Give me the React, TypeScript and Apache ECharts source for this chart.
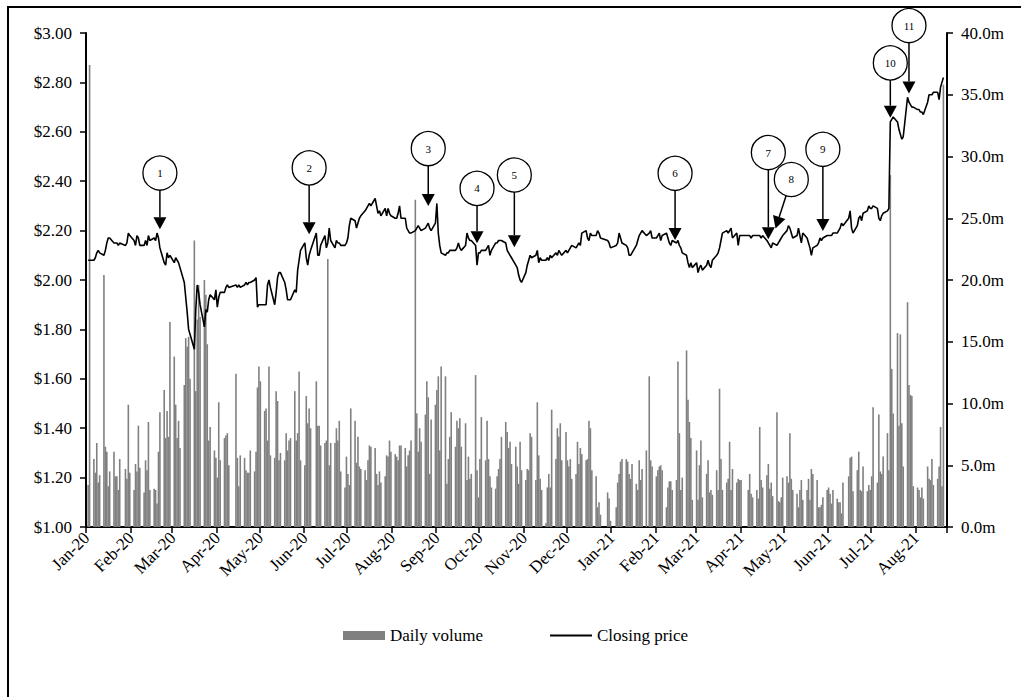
import React, { useEffect, useRef } from 'react';
import * as echarts from 'echarts';

// ---------- axis / calendar ----------
const MONTH_NAMES = ['Jan', 'Feb', 'Mar', 'Apr', 'May', 'Jun', 'Jul', 'Aug', 'Sep', 'Oct', 'Nov', 'Dec'];
const AXIS_START_UTC = Date.UTC(2020, 0, 1);
const AXIS_DAYS = 600;
const LAST_TRADE = '2021-08-20';
const HOLIDAYS = ['2020-01-01', '2020-01-27', '2020-04-10', '2020-04-13', '2020-06-08', '2020-12-25', '2020-12-28',
  '2021-01-01', '2021-01-26', '2021-04-02', '2021-04-05', '2021-06-14'];

// ---------- daily volume (millions), one value per trading day of each month ----------
const VOL_2020_01 = [3.4, 37.4, 5.5, 4.4, 6.8, 3.6, 4.2, 20.4, 6.5, 6.1, 3.3, 4.5, 6.1, 4.1, 4.1, 3.0, 5.5, 4.7, 3.9, 9.9, 4.4];
const VOL_2020_02 = [3.0, 5.1, 4.5, 8.2, 4.8, 2.8, 5.4, 4.6, 8.5, 3.0, 3.1, 3.0, 1.9, 6.1, 9.3, 11.1, 7.2, 9.4, 7.3, 16.6];
const VOL_2020_03 = [13.8, 9.9, 7.2, 8.6, 6.4, 11.5, 15.3, 14.6, 15.4, 12.0, 23.2, 11.0, 16.8, 19.6, 17.0, 20.0, 18.8, 14.8, 7.0, 8.1, 6.2, 5.6];
const VOL_2020_04 = [4.0, 10.1, 5.4, 7.2, 7.4, 7.6, 5.0, 12.4, 5.6, 3.3, 5.8, 5.6, 4.6, 4.4, 4.4, 6.2, 4.5, 6.1, 11.3, 13.0];
const VOL_2020_05 = [11.8, 9.4, 9.6, 7.0, 13.0, 5.8, 5.6, 11.0, 10.2, 5.4, 6.0, 5.4, 7.6, 6.2, 7.0, 7.2, 11.0, 7.0, 7.6, 12.6, 5.4];
const VOL_2020_06 = [5.0, 10.6, 8.4, 9.6, 8.0, 11.8, 8.2, 8.2, 6.6, 6.8, 7.0, 21.7, 5.0, 6.8, 6.8, 8.0, 7.0, 8.6, 4.5, 3.2, 5.7];
const VOL_2020_07 = [4.3, 3.4, 9.6, 8.6, 5.2, 7.3, 4.9, 4.7, 4.6, 3.8, 5.4, 6.6, 6.5, 6.4, 4.3, 3.4, 4.5, 3.6, 4.1, 5.8, 5.7, 7.0, 6.1];
const VOL_2020_08 = [5.9, 5.7, 5.4, 6.6, 6.6, 6.4, 4.9, 5.8, 6.2, 7.0, 26.5, 9.2, 6.1, 8.0, 6.9, 9.1, 11.8, 10.5, 4.3, 8.7, 9.9];
const VOL_2020_09 = [11.1, 12.2, 6.2, 13.0, 12.2, 3.5, 5.5, 7.3, 9.3, 6.5, 8.6, 8.0, 8.8, 6.5, 8.4, 3.8, 5.7, 3.9, 4.3, 12.3, 4.6, 2.4];
const VOL_2020_10 = [5.5, 8.9, 5.4, 8.6, 5.5, 4.1, 3.2, 3.1, 4.1, 4.7, 5.5, 7.3, 8.5, 7.7, 6.4, 6.9, 5.1, 6.5, 4.9, 3.5, 6.9, 4.6];
const VOL_2020_11 = [3.8, 4.7, 4.6, 7.6, 7.3, 3.8, 10.1, 5.8, 3.9, 3.0, 0.3, 3.2, 4.3, 3.2, 9.5, 5.5, 8.0, 7.3, 8.4, 5.4, 7.7];
const VOL_2020_12 = [5.4, 4.9, 5.5, 3.9, 4.3, 6.9, 5.1, 6.4, 5.9, 5.4, 5.5, 8.6, 8.0, 4.6, 4.1, 1.6, 2.0, 1.0, 2.8, 2.3, 0.5];
const VOL_2021_01 = [1.6, 3.6, 4.3, 5.3, 5.5, 5.5, 5.3, 4.3, 3.9, 5.1, 3.5, 3.0, 5.4, 3.8, 4.7, 6.2, 12.2, 5.4, 4.9];
const VOL_2021_02 = [4.1, 4.6, 4.9, 5.0, 4.6, 1.6, 3.2, 3.7, 3.7, 3.0, 3.8, 13.4, 7.6, 3.0, 4.0, 14.3, 10.3, 8.5, 7.2, 2.2];
const VOL_2021_03 = [6.2, 2.2, 5.0, 7.0, 2.4, 4.3, 5.4, 2.8, 3.0, 2.6, 4.6, 3.0, 11.2, 5.5, 3.0, 3.6, 3.9, 6.9, 3.0, 4.7, 3.6, 3.9, 3.8];
const VOL_2021_04 = [3.8, 3.0, 4.3, 2.7, 2.4, 3.0, 2.3, 8.1, 3.8, 3.2, 4.2, 5.1, 3.1, 3.6, 2.5, 9.3, 2.1, 2.0, 2.4, 4.0];
const VOL_2021_05 = [4.1, 3.6, 7.6, 3.9, 3.0, 2.7, 1.6, 3.0, 3.8, 2.2, 3.0, 3.9, 2.2, 4.7, 4.3, 3.8, 1.6, 1.6, 1.8, 2.4, 3.0];
const VOL_2021_06 = [3.2, 2.7, 1.9, 3.0, 2.3, 2.0, 2.0, 1.1, 3.6, 4.1, 5.6, 5.7, 2.9, 4.6, 6.1, 3.0, 2.9, 4.9, 2.9, 3.4, 3.0];
const VOL_2021_07 = [4.1, 9.7, 3.6, 9.1, 4.5, 4.3, 5.7, 7.6, 4.6, 28.5, 12.8, 9.2, 15.7, 8.2, 15.6, 8.4, 4.9, 18.2, 11.5, 10.7, 10.6, 3.3];
const VOL_2021_08 = [3.2, 3.0, 2.4, 3.2, 2.3, 4.9, 3.9, 3.8, 5.5, 3.4, 3.9, 4.9, 8.1, 3.3, 35.8];

// ---------- closing price ($), one value per trading day of each month ----------
const PX_2020_01 = [2.08, 2.08, 2.08, 2.09, 2.11, 2.12, 2.11, 2.10, 2.12, 2.15, 2.17, 2.17, 2.15, 2.15, 2.15, 2.14, 2.15, 2.14, 2.15, 2.19, 2.18];
const PX_2020_02 = [2.16, 2.14, 2.18, 2.17, 2.14, 2.14, 2.16, 2.14, 2.18, 2.16, 2.17, 2.16, 2.19, 2.17, 2.13, 2.07, 2.06, 2.11, 2.09, 2.10];
const PX_2020_03 = [2.07, 2.09, 2.08, 2.07, 2.05, 1.99, 1.93, 1.87, 1.80, 1.78, 1.72, 1.88, 1.98, 1.95, 1.90, 1.81, 1.88, 1.87, 1.92, 1.94, 1.92, 1.96];
const PX_2020_04 = [1.89, 1.93, 1.95, 1.95, 1.97, 1.98, 1.97, 1.98, 1.97, 1.98, 1.97, 1.98, 1.99, 1.98, 1.99, 1.99, 2.00, 2.01, 1.89, 1.90];
const PX_2020_05 = [1.90, 1.90, 1.90, 1.98, 2.00, 1.97, 1.90, 1.95, 2.01, 2.03, 2.03, 1.99, 1.96, 1.92, 1.92, 1.92, 1.96, 1.95, 2.04, 2.08, 2.12];
const PX_2020_06 = [2.15, 2.09, 2.06, 2.10, 2.12, 2.19, 2.10, 2.10, 2.14, 2.18, 2.13, 2.15, 2.21, 2.16, 2.13, 2.16, 2.15, 2.15, 2.14, 2.14, 2.15];
const PX_2020_07 = [2.17, 2.22, 2.25, 2.24, 2.21, 2.23, 2.25, 2.26, 2.28, 2.29, 2.30, 2.31, 2.30, 2.33, 2.30, 2.27, 2.28, 2.26, 2.29, 2.26, 2.29, 2.27, 2.26];
const PX_2020_08 = [2.25, 2.25, 2.27, 2.30, 2.25, 2.25, 2.21, 2.20, 2.19, 2.19, 2.20, 2.21, 2.22, 2.21, 2.20, 2.21, 2.22, 2.23, 2.21, 2.20, 2.23];
const PX_2020_09 = [2.31, 2.19, 2.14, 2.11, 2.10, 2.11, 2.11, 2.12, 2.12, 2.12, 2.13, 2.15, 2.13, 2.12, 2.14, 2.19, 2.17, 2.16, 2.16, 2.14, 2.06, 2.11];
const PX_2020_10 = [2.11, 2.12, 2.12, 2.13, 2.14, 2.10, 2.12, 2.15, 2.15, 2.16, 2.16, 2.16, 2.15, 2.12, 2.11, 2.10, 2.09, 2.06, 2.05, 2.02, 2.00, 1.99];
const PX_2020_11 = [2.03, 2.06, 2.08, 2.10, 2.09, 2.10, 2.12, 2.07, 2.09, 2.08, 2.08, 2.09, 2.08, 2.10, 2.09, 2.11, 2.10, 2.12, 2.11, 2.10, 2.12];
const PX_2020_12 = [2.11, 2.12, 2.13, 2.14, 2.13, 2.14, 2.15, 2.14, 2.19, 2.20, 2.17, 2.16, 2.19, 2.18, 2.18, 2.20, 2.19, 2.17, 2.16, 2.15, 2.13];
const PX_2021_01 = [2.14, 2.15, 2.19, 2.17, 2.15, 2.14, 2.13, 2.10, 2.10, 2.11, 2.14, 2.16, 2.18, 2.19, 2.20, 2.18, 2.19, 2.20, 2.17];
const PX_2021_02 = [2.17, 2.18, 2.19, 2.16, 2.18, 2.19, 2.17, 2.15, 2.14, 2.16, 2.15, 2.16, 2.14, 2.13, 2.11, 2.10, 2.07, 2.05, 2.07, 2.05];
const PX_2021_03 = [2.07, 2.03, 2.05, 2.06, 2.04, 2.06, 2.08, 2.06, 2.05, 2.08, 2.10, 2.11, 2.13, 2.16, 2.19, 2.20, 2.19, 2.20, 2.21, 2.17, 2.19, 2.14, 2.18];
const PX_2021_04 = [2.18, 2.18, 2.18, 2.17, 2.18, 2.18, 2.18, 2.18, 2.17, 2.18, 2.16, 2.15, 2.14, 2.13, 2.15, 2.14, 2.15, 2.16, 2.17, 2.18];
const PX_2021_05 = [2.20, 2.22, 2.21, 2.19, 2.17, 2.18, 2.21, 2.18, 2.15, 2.19, 2.17, 2.15, 2.13, 2.10, 2.13, 2.14, 2.15, 2.17, 2.16, 2.17, 2.18];
const PX_2021_06 = [2.18, 2.18, 2.18, 2.19, 2.19, 2.20, 2.21, 2.23, 2.22, 2.25, 2.28, 2.21, 2.19, 2.22, 2.25, 2.26, 2.24, 2.27, 2.28, 2.30, 2.29];
const PX_2021_07 = [2.29, 2.30, 2.29, 2.25, 2.24, 2.26, 2.27, 2.28, 2.29, 2.64, 2.65, 2.66, 2.64, 2.61, 2.59, 2.57, 2.58, 2.74, 2.72, 2.71, 2.70, 2.70];
const PX_2021_08 = [2.69, 2.69, 2.68, 2.68, 2.67, 2.72, 2.75, 2.75, 2.75, 2.76, 2.76, 2.73, 2.78, 2.80, 2.82];

const VOLUME_BY_MONTH = [VOL_2020_01, VOL_2020_02, VOL_2020_03, VOL_2020_04, VOL_2020_05, VOL_2020_06, VOL_2020_07,
  VOL_2020_08, VOL_2020_09, VOL_2020_10, VOL_2020_11, VOL_2020_12, VOL_2021_01, VOL_2021_02, VOL_2021_03, VOL_2021_04,
  VOL_2021_05, VOL_2021_06, VOL_2021_07, VOL_2021_08];
const PRICE_BY_MONTH = [PX_2020_01, PX_2020_02, PX_2020_03, PX_2020_04, PX_2020_05, PX_2020_06, PX_2020_07,
  PX_2020_08, PX_2020_09, PX_2020_10, PX_2020_11, PX_2020_12, PX_2021_01, PX_2021_02, PX_2021_03, PX_2021_04,
  PX_2021_05, PX_2021_06, PX_2021_07, PX_2021_08];

// ---------- numbered events (date and price the arrow points at; bubble anchor) ----------
const EVENT_LABELS = ['1', '2', '3', '4', '5', '6', '7', '8', '9', '10', '11'];
const EVENT_DATES = ['2020-02-21', '2020-06-04', '2020-08-26', '2020-09-29', '2020-10-25', '2021-02-14',
  '2021-04-20', '2021-04-25', '2021-05-28', '2021-07-14', '2021-07-27'];
const EVENT_PRICES = [2.205, 2.185, 2.30, 2.149, 2.133, 2.162, 2.165, 2.209, 2.198, 2.657, 2.755];
const BUBBLE_DATES = ['2020-02-21', '2020-06-04', '2020-08-26', '2020-09-29', '2020-10-25', '2021-02-14',
  '2021-04-20', '2021-05-06', '2021-05-28', '2021-07-14', '2021-07-27'];
const BUBBLE_PRICES = [2.433, 2.454, 2.532, 2.371, 2.425, 2.432, 2.516, 2.407, 2.529, 2.879, 3.03];

const FONT = '"Liberation Serif", "Times New Roman", Times, serif';

function iso(t: number) {
  return new Date(t).toISOString().slice(0, 10);
}

function buildData() {
  const days: string[] = [];
  for (let i = 0; i < AXIS_DAYS; i++) days.push(iso(AXIS_START_UTC + i * 86400000));
  const monthKeys: string[] = [];
  const tradeByMonth: Record<string, number[]> = {};
  days.forEach((d, i) => {
    const key = d.slice(0, 7);
    if (!tradeByMonth[key]) { tradeByMonth[key] = []; monthKeys.push(key); }
    const wd = new Date(AXIS_START_UTC + i * 86400000).getUTCDay();
    if (wd >= 1 && wd <= 5 && HOLIDAYS.indexOf(d) < 0 && d <= LAST_TRADE) tradeByMonth[key].push(i);
  });
  const vol: (number | null)[] = days.map(() => null);
  const px: (number | null)[] = days.map(() => null);
  monthKeys.forEach((key, m) => {
    const idxs = tradeByMonth[key];
    const v = VOLUME_BY_MONTH[m] || [];
    const p = PRICE_BY_MONTH[m] || [];
    idxs.forEach((di, j) => {
      if (j < v.length) vol[di] = v[j];
      if (j < p.length) px[di] = p[j];
    });
  });
  return { days, vol, px };
}

export default function App() {
  const ref = useRef<HTMLDivElement>(null);
  useEffect(() => {
    if (!ref.current) return;
    const chart = echarts.init(ref.current, undefined, { renderer: 'svg' });
    const { days, vol, px } = buildData();
    const isMonthStart = (_i: number, v: string) => typeof v === 'string' && v.slice(8, 10) === '01';

    chart.setOption({
      animation: false,
      backgroundColor: '#fff',
      textStyle: { fontFamily: FONT, fontSize: 17, color: '#000' },
      grid: { left: 86, right: 74, top: 33, bottom: 170, containLabel: false },
      legend: {
        left: 343, top: 627, padding: 0, itemWidth: 42, itemHeight: 9, itemGap: 66,
        textStyle: { fontFamily: FONT, fontSize: 17, color: '#000' },
        data: [
          { name: 'Daily volume', icon: 'rect' },
          { name: 'Closing price', itemStyle: { opacity: 0 } },
        ],
      },
      xAxis: {
        type: 'category',
        data: days,
        boundaryGap: true,
        axisLine: { show: true, lineStyle: { color: '#000', width: 2 } },
        axisTick: { show: true, interval: isMonthStart, length: 6, lineStyle: { color: '#000', width: 1.5 } },
        axisLabel: {
          interval: isMonthStart,
          rotate: 45,
          margin: 8,
          fontFamily: FONT,
          fontSize: 17,
          color: '#000',
          formatter: (v: string) => MONTH_NAMES[parseInt(v.slice(5, 7), 10) - 1] + '-' + v.slice(2, 4),
        },
        splitLine: { show: false },
      },
      yAxis: [
        {
          type: 'value', min: 1, max: 3, interval: 0.2, position: 'left',
          axisLine: { show: true, lineStyle: { color: '#000', width: 2 } },
          axisTick: { show: true, length: 6, lineStyle: { color: '#000', width: 1.5 } },
          axisLabel: { margin: 14, fontFamily: FONT, fontSize: 17, color: '#000', formatter: (v: number) => '$' + v.toFixed(2) },
          splitLine: { show: false },
        },
        {
          type: 'value', min: 0, max: 40, interval: 5, position: 'right',
          axisLine: { show: true, lineStyle: { color: '#000', width: 2 } },
          axisTick: { show: true, length: 6, lineStyle: { color: '#000', width: 1.5 } },
          axisLabel: { margin: 14, fontFamily: FONT, fontSize: 17, color: '#000', formatter: (v: number) => v.toFixed(1) + 'm' },
          splitLine: { show: false },
        },
      ],
      series: [
        {
          name: 'Daily volume', type: 'bar', yAxisIndex: 1, data: vol,
          barWidth: 1.6, itemStyle: { color: '#808080' }, z: 2,
        },
        {
          name: 'Closing price', type: 'line', yAxisIndex: 0, data: px,
          connectNulls: true, symbol: 'none', showSymbol: false,
          lineStyle: { color: '#000', width: 1.6 }, itemStyle: { color: '#000' }, z: 3,
        },
      ],
    });

    const elements: any[] = [
      { type: 'rect', shape: { x: 8, y: 7, width: 1300, height: 1000 }, style: { fill: 'none', stroke: '#000', lineWidth: 2 }, silent: true, z: 0 },
    ];
    const R = 17, HL = 12, HW = 6.5;
    EVENT_LABELS.forEach((lab, k) => {
      const tip = chart.convertToPixel({ xAxisIndex: 0, yAxisIndex: 0 }, [days.indexOf(EVENT_DATES[k]), EVENT_PRICES[k]]) as number[];
      const c = chart.convertToPixel({ xAxisIndex: 0, yAxisIndex: 0 }, [days.indexOf(BUBBLE_DATES[k]), BUBBLE_PRICES[k]]) as number[];
      const dx = tip[0] - c[0], dy = tip[1] - c[1];
      const len = Math.hypot(dx, dy) || 1;
      const ux = dx / len, uy = dy / len;
      const sx = c[0] + ux * R, sy = c[1] + uy * R;
      const bx = tip[0] - ux * HL, by = tip[1] - uy * HL;
      elements.push({ type: 'line', shape: { x1: sx, y1: sy, x2: bx, y2: by }, style: { stroke: '#000', lineWidth: 1.5 }, z: 100 });
      elements.push({
        type: 'polygon',
        shape: { points: [[tip[0], tip[1]], [bx - uy * HW, by + ux * HW], [bx + uy * HW, by - ux * HW]] },
        style: { fill: '#000' }, z: 100,
      });
      elements.push({ type: 'circle', shape: { cx: c[0], cy: c[1], r: R }, style: { fill: '#fff', stroke: '#000', lineWidth: 1.3 }, z: 100 });
      elements.push({
        type: 'text', x: c[0], y: c[1], z: 101,
        style: {
          text: lab, fill: '#000', font: '11px ' + FONT,
          align: 'center', verticalAlign: 'middle', textAlign: 'center', textVerticalAlign: 'middle',
        },
      });
    });
    chart.setOption({ graphic: { elements } });

    return () => chart.dispose();
  }, []);

  return <div ref={ref} style={{ position: 'fixed', left: 0, top: 0, width: 1021, height: 697 }} />;
}
